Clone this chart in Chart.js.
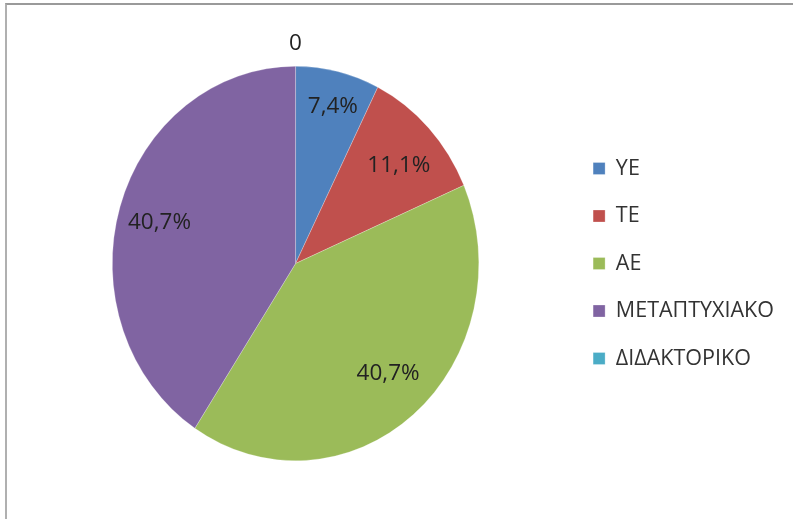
<!DOCTYPE html>
<html>
<head>
<meta charset="utf-8">
<script src="https://cdn.jsdelivr.net/npm/chart.js@4.4.1/dist/chart.umd.min.js"></script>
<style>
  html, body { margin: 0; padding: 0; background: #fff; }
  #wrap { position: relative; width: 793px; height: 519px; overflow: hidden; }
  #frame {
    position: absolute; left: 5px; top: 3px; width: 820px; height: 540px;
    border-top: 2px solid #9a9a9a; border-left: 2px solid #b0b0b0;
  }
  canvas { position: absolute; left: 0; top: 0; }
</style>
</head>
<body>
<div id="wrap">
  <div id="frame"></div>
  <canvas id="pie" width="793" height="519"></canvas>
</div>
<script>
// categories and shares (%)
const levels = ['ΥΕ', 'ΤΕ', 'ΑΕ', 'ΜΕΤΑΠΤΥΧΙΑΚΟ', 'ΔΙΔΑΚΤΟΡΙΚΟ'];
const shares = [7.4, 11.1, 40.7, 40.7, 0];
const sliceColors = ['#4F81BD', '#C0504D', '#9BBB59', '#8064A2', '#4BACC6'];

// how far out each label sits, as a fraction of the radius
const labelDist = [0.82, 0.72, 0.73, 0.72, 1.117];
// Excel stretched the pie a bit: narrower than tall
const squeezeX = 183.5 / 197.5;

function fmt(v) {
  if (v === 0) return '0';
  return v.toFixed(1).replace('.', ',') + '%';
}

const ellipsePie = {
  id: 'ellipsePie',
  beforeDatasetsDraw(chart) {
    const arc = chart.getDatasetMeta(0).data[0];
    const ctx = chart.ctx;
    ctx.save();
    ctx.translate(arc.x, arc.y);
    ctx.scale(squeezeX, 1);
    ctx.translate(-arc.x, -arc.y);
  },
  afterDatasetsDraw(chart) {
    const ctx = chart.ctx;
    ctx.restore();

    // value labels
    const meta = chart.getDatasetMeta(0);
    ctx.save();
    ctx.font = '22.5px "Open Sans"';
    ctx.fillStyle = '#222';
    ctx.textAlign = 'center';
    ctx.textBaseline = 'middle';
    meta.data.forEach((arc, i) => {
      const mid = (arc.startAngle + arc.endAngle) / 2;
      const r = arc.outerRadius * labelDist[i];
      const x = arc.x + Math.cos(mid) * r;
      const y = arc.y + Math.sin(mid) * r;
      ctx.fillText(fmt(shares[i]), x, y);
    });
    ctx.restore();
  }
};

new Chart(document.getElementById('pie'), {
  type: 'pie',
  data: {
    labels: levels,
    datasets: [{
      data: shares,
      backgroundColor: sliceColors,
      borderColor: 'rgba(255,255,255,0.5)',
      borderWidth: 0.5
    }]
  },
  options: {
    responsive: false,
    animation: false,
    events: [],
    layout: {
      padding: { left: 24, right: 9, top: 66, bottom: 58 }
    },
    plugins: {
      legend: {
        position: 'right',
        labels: {
          boxWidth: 12,
          boxHeight: 12,
          padding: 26,
          color: '#333',
          font: { family: 'Open Sans', size: 21.5 }
        }
      },
      tooltip: { enabled: false }
    }
  },
  plugins: [ellipsePie]
});
</script>
</body>
</html>
